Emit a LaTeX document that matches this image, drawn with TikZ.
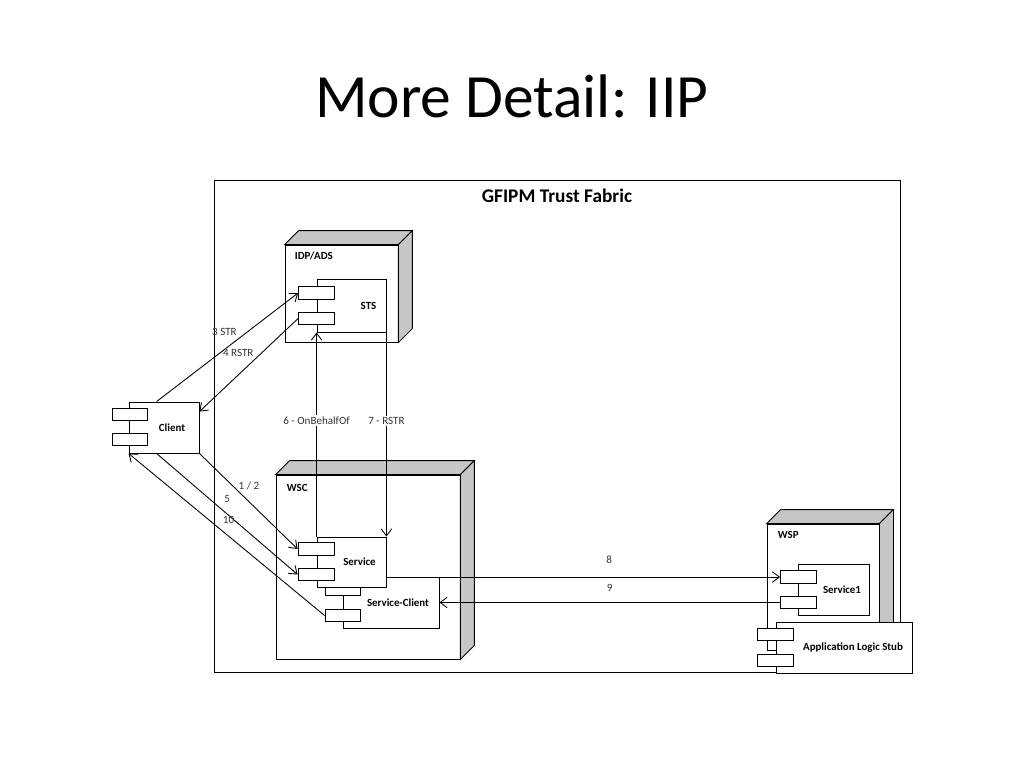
\documentclass[tikz,border=0pt]{standalone}
\usepackage{fontspec}
\setmainfont{Carlito}
\usetikzlibrary{arrows.meta,calc}

\tikzset{
  shell/.style={draw, fill=white, inner sep=0pt},
  face/.style={draw, fill=gray!45},
  body/.style={draw, fill=white, inner sep=0pt},
  port/.style={draw, fill=white, inner sep=0pt, minimum width=0.72cm, minimum height=0.25cm},
  tag/.style={font=\fontsize{6.2}{7}\selectfont\bfseries},
  msg/.style={font=\fontsize{6.3}{7}\selectfont, text=black!80, inner sep=1pt},
  flow/.style={-{Straight Barb[length=4pt, width=6pt]}},
}

\begin{document}
\begin{tikzpicture}[x=0.02cm, y=-0.02cm, line width=0.5pt]
    \useasboundingbox (0,0) rectangle (1024,768);

    % Titulo
    \node[font=\fontsize{35}{40}\selectfont, anchor=base] (title) at (512,117) {More Detail: IIP};

    % Marco de confianza
    \node[draw, inner sep=0pt, minimum width=13.72cm, minimum height=9.84cm] (fabric) at (557,426) {};
    \node[font=\fontsize{11}{13}\selectfont\bfseries, anchor=base] at ([shift={(0,23)}]fabric.north) {GFIPM Trust Fabric};

    % Nodos 3D (cara frontal)
    \node[shell, minimum width=2.26cm, minimum height=1.94cm] (idp) at (341.5,293.5) {};
    \node[shell, minimum width=3.68cm, minimum height=3.68cm] (wsc) at (368,567) {};
    \node[shell, minimum width=2.24cm, minimum height=2.52cm] (wsp) at (823,587) {};

    % Caras superior y lateral
    \foreach \n in {idp, wsc, wsp} {
        \draw[face] (\n.north west) -- ++(14,-14) -- ([shift={(14,-14)}]\n.north east) -- (\n.north east) -- cycle;
        \draw[face] (\n.north east) -- ++(14,-14) -- ([shift={(14,-14)}]\n.south east) -- (\n.south east) -- cycle;
    }

    \node[tag, anchor=west] at ([shift={(4,11)}]idp.north west) {IDP/ADS};
    \node[tag, anchor=west] at ([shift={(5,13)}]wsc.north west) {WSC};
    \node[tag, anchor=west] at ([shift={(5,11)}]wsp.north west) {WSP};

    % Componente STS
    \node[body, minimum width=1.38cm, minimum height=1.06cm] (sts) at (351.5,305.5) {};
    \node[port] (stsa) at (316.5,293) {};
    \node[port] (stsb) at (316.5,318.5) {};
    \node[tag] at ([shift={(17,0)}]sts.center) {STS};

    % Componente Client
    \node[body, minimum width=1.4cm, minimum height=1.02cm] (client) at (164,427.5) {};
    \node[port, minimum width=0.7cm] (clienta) at (129.5,414.5) {};
    \node[port, minimum width=0.7cm] (clientb) at (129.5,439.5) {};
    \node[tag] at ([shift={(8,0)}]client.center) {Client};

    % Componente Service-Client (debajo de Service)
    \node[body, minimum width=1.92cm, minimum height=1.02cm] (svcclient) at (391,602.5) {};
    \node[port, minimum width=0.7cm] (svcclienta) at (342.5,589.5) {};
    \node[port, minimum width=0.7cm] (svcclientb) at (342.5,615.5) {};
    \node[tag] at ([shift={(7,0)}]svcclient.center) {Service-Client};

    % Componente Service
    \node[body, minimum width=1.38cm, minimum height=1.0cm] (service) at (351.5,562) {};
    \node[port] (servicea) at (316,549) {};
    \node[port] (serviceb) at (316,574.5) {};
    \node[tag] at ([shift={(8,0)}]service.center) {Service};

    % Componente Service1
    \node[body, minimum width=1.42cm, minimum height=1.02cm] (svcone) at (833.5,589.5) {};
    \node[port] (svconea) at (798.5,577) {};
    \node[port] (svconeb) at (798.5,602.5) {};
    \node[tag] at ([shift={(8.5,0)}]svcone.center) {Service1};

    % Componente Application Logic Stub
    \node[body, minimum width=2.72cm, minimum height=1.02cm] (stub) at (844,647.5) {};
    \node[port] (stuba) at (775,634.5) {};
    \node[port] (stubb) at (775,660.5) {};
    \node[tag] at ([shift={(9,0)}]stub.center) {Application Logic Stub};

    % Mensajes
    \draw[flow] ([shift={(28,0)}]client.north west) -- (stsa.west)
          node[msg, pos=0.48, yshift=0.35cm] {3 STR};
    \draw[flow] (stsb.west) -- ([shift={(0,10)}]client.north east)
          node[msg, pos=0.606, yshift=0.44cm] {4 RSTR};
    \draw[flow] (client.south east) -- (servicea.west)
          node[msg, pos=0.505, yshift=0.31cm] {1 / 2};
    \draw[flow] ([shift={(28,0)}]client.south west) -- (serviceb.west)
          node[msg, pos=0.5, yshift=0.3cm] {5};
    \draw[flow] (svcclientb.west) -- (client.south west)
          node[msg, pos=0.49, yshift=0.32cm] {10};
    \draw[flow] (service.north west) -- (sts.south west)
          node[msg, pos=0.57, fill=white] {6 - OnBehalfOf};
    \draw[flow] (sts.south east) -- (service.north east)
          node[msg, pos=0.434, fill=white] {7 - RSTR};
    \draw[flow] (service.east |- svconea.west) -- (svconea.west)
          node[msg, pos=0.566, yshift=0.34cm] {8};
    \draw[flow] (svconeb.west) -- (svcclient.east)
          node[msg, pos=0.5, yshift=0.29cm] {9};
  \end{tikzpicture}
\end{document}
